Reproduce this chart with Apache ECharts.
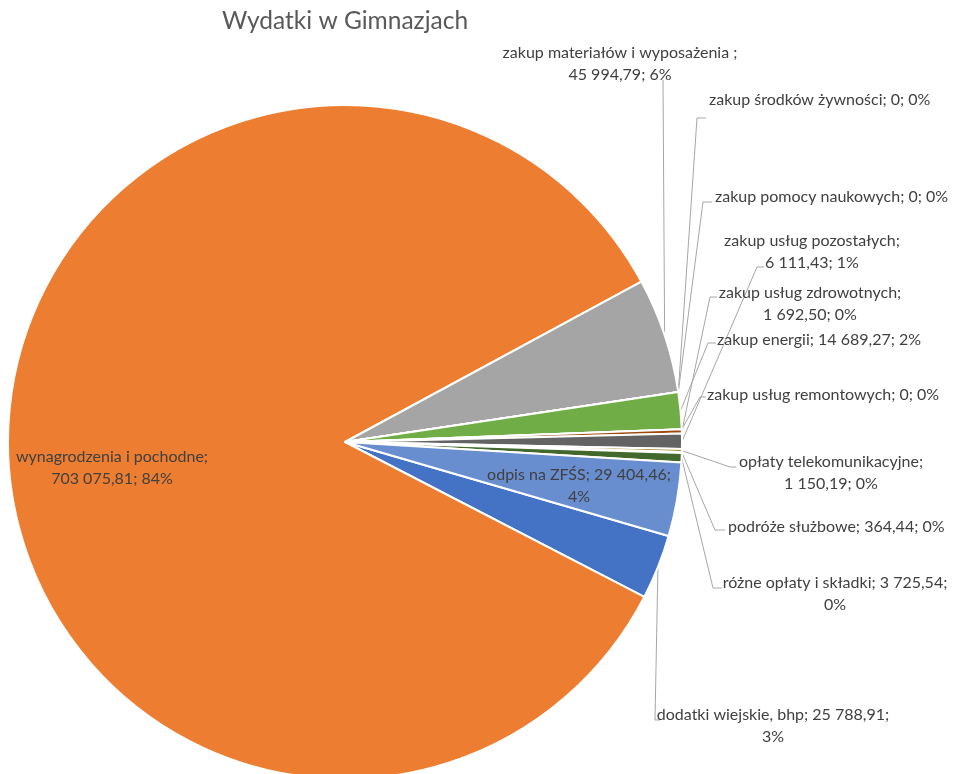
<!DOCTYPE html>
<html>
<head>
<meta charset="utf-8">
<script src="https://cdn.jsdelivr.net/npm/echarts@6/dist/echarts.min.js"></script>
<style>
  html, body { margin: 0; padding: 0; background: #fff; }
  #chart { width: 963px; height: 774px; }
</style>
</head>
<body>
<div id="chart"></div>
<script>
// dane z wykresu (kolejność jak w arkuszu)
const names = [
  'dodatki wiejskie, bhp',
  'wynagrodzenia i pochodne',
  'zakup materiałów i wyposażenia ',
  'zakup środków żywności',
  'zakup pomocy naukowych',
  'zakup energii',
  'zakup usług remontowych',
  'zakup usług zdrowotnych',
  'zakup usług pozostałych',
  'opłaty telekomunikacyjne',
  'podróże służbowe',
  'różne opłaty i składki',
  'odpis na ZFŚS'
]
const values = [25788.91, 703075.81, 45994.79, 0, 0, 14689.27, 0, 1692.50, 6111.43, 1150.19, 364.44, 3725.54, 29404.46]
const colors = ['#4472C4', '#ED7D31', '#A5A5A5', '#FFC000', '#5B9BD5', '#70AD47', '#264478',
  '#9E480E', '#636363', '#997300', '#255E91', '#43682B', '#698ED0']

// rozmieszczenie etykiet: [x, y, align, łamanie linii (0 brak, 1 po nazwie, 2 po wartości), punkty linii]
const labelPos = [
  [773, 726, 'center', 2, [[655, 720], [660, 720]]],
  [112, 468, 'center', 1, null],
  [620, 64, 'center', 1, [[663, 80]]],
  [709, 100, 'left', 0, [[697, 118], [706, 118]]],
  [715, 197, 'left', 0, [[703, 202], [712, 202]]],
  [717, 340, 'left', 0, [[708, 343], [716, 343]]],
  [707, 395, 'left', 0, [[700, 397], [706, 397]]],
  [810, 304, 'center', 1, [[710, 297], [717, 297]]],
  [812, 252, 'center', 1, [[757, 267], [764, 267]]],
  [831, 473, 'center', 1, [[730, 467], [736, 467]]],
  [728, 527, 'left', 0, [[715, 530], [725, 530]]],
  [835, 594, 'center', 2, [[713, 588], [722, 588]]],
  [579, 486, 'center', 2, null]
]

const FONT = 'Lato'

// 703075.81 -> "703 075,81"
const fmt = (v) => {
  if (v === 0) return '0'
  const parts = v.toFixed(2).split('.')
  parts[0] = parts[0].replace(/\B(?=(\d{3})+(?!\d))/g, ' ')
  return parts.join(',')
}

const pieData = names.map((name, i) => {
  const item = { name, value: values[i], itemStyle: { color: colors[i] } }
  if (!labelPos[i][4]) {
    item.label = { position: 'inside' }
    item.labelLine = { show: false }
  }
  return item
})

const chart = echarts.init(document.getElementById('chart'))
chart.setOption({
  animation: false,
  title: {
    text: 'Wydatki w Gimnazjach',
    left: 222,
    top: 9,
    padding: 0,
    textStyle: { fontFamily: FONT, fontSize: 24.5, fontWeight: 'normal', color: '#595959' }
  },
  series: [{
    type: 'pie',
    center: [345, 442],
    radius: 337,
    startAngle: -16.2,
    clockwise: true,
    percentPrecision: 0,
    avoidLabelOverlap: false,
    itemStyle: { borderColor: '#fff', borderWidth: 2 },
    label: {
      show: true,
      position: 'outside',
      fontFamily: FONT,
      fontSize: 16,
      lineHeight: 22,
      color: '#404040',
      formatter: (p) => {
        const brk = labelPos[p.dataIndex][3]
        const val = fmt(p.value)
        const pct = p.percent + '%'
        if (brk === 1) return p.name + ';\n' + val + '; ' + pct
        if (brk === 2) return p.name + '; ' + val + ';\n' + pct
        return p.name + '; ' + val + '; ' + pct
      }
    },
    labelLine: {
      show: true,
      lineStyle: { color: '#A6A6A6', width: 1 }
    },
    labelLayout: (params) => {
      const lp = labelPos[params.dataIndex]
      const res = { x: lp[0], y: lp[1], align: lp[2], verticalAlign: 'middle' }
      if (lp[4] && params.labelLinePoints) {
        res.labelLinePoints = [params.labelLinePoints[0]].concat(lp[4])
      }
      return res
    },
    data: pieData
  }]
})
</script>
</body>
</html>
